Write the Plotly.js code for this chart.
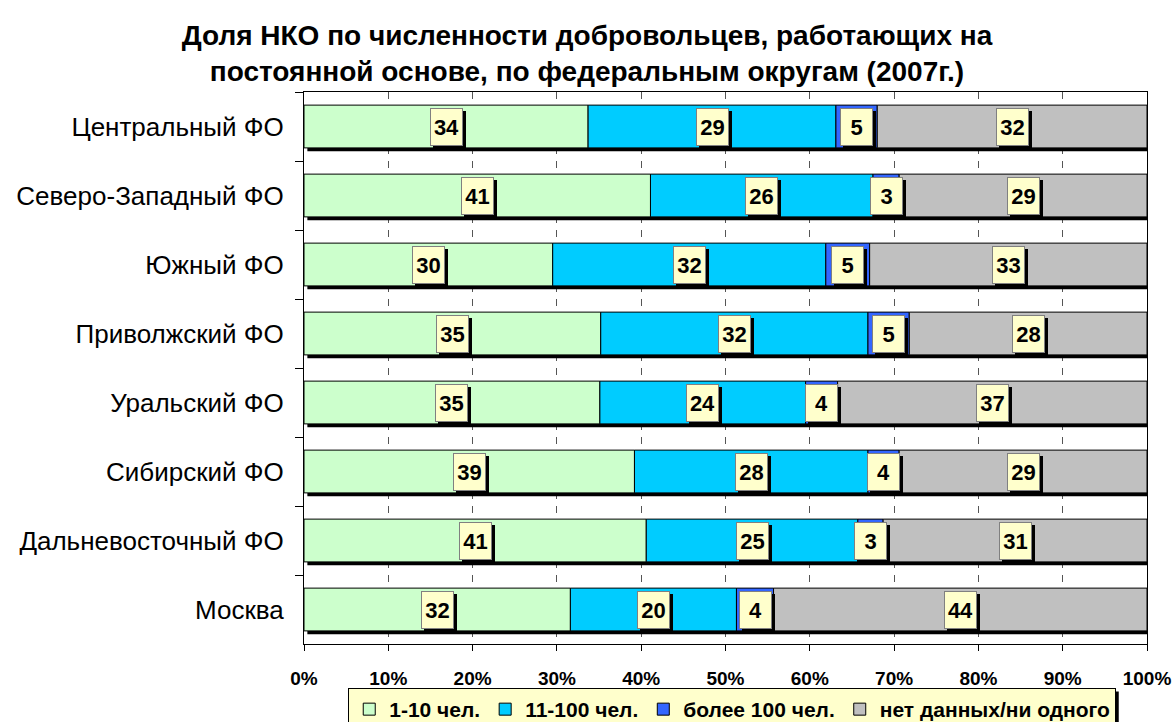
<!DOCTYPE html>
<html>
<head>
<meta charset="utf-8">
<script src="https://cdn.plot.ly/plotly-3.0.1.min.js"></script>
<style>
html,body{margin:0;padding:0;background:#fff;}
#chart{width:1174px;height:722px;}
</style>
</head>
<body>
<div id="chart"></div>
<script>
// ---- data ----
const categories = ['Центральный ФО', 'Северо-Западный ФО', 'Южный ФО', 'Приволжский ФО',
  'Уральский ФО', 'Сибирский ФО', 'Дальневосточный ФО', 'Москва'];
const seriesNames = ['1-10 чел.', '11-100 чел.', 'более 100 чел.', 'нет данных/ни одного'];
const small = [33.7, 41.1, 29.5, 35.2, 35.1, 39.2, 40.6, 31.6];     // 1-10 чел.
const medium = [29.4, 26.4, 32.4, 31.7, 24.4, 27.7, 25.1, 19.7];   // 11-100 чел.
const large = [4.9, 3.1, 5.2, 4.9, 3.8, 3.7, 3.0, 4.4];            // более 100 чел.
const none = [32.0, 29.4, 32.9, 28.2, 36.7, 29.4, 31.3, 44.3];     // нет данных/ни одного
const xTicks = [0, 10, 20, 30, 40, 50, 60, 70, 80, 90, 100];

// ---- styles ----
const colors = ['#CCFFCC', '#00CCFF', '#3366FF', '#C0C0C0'];
const FONT = 'Liberation Sans, Arial, sans-serif';
const BAR_W = 0.62;

const series = [small, medium, large, none];
const traces = [];
const annotations = [];

// shadow behind each full bar
const totals = categories.map((c, i) => series.reduce((s, arr) => s + arr[i], 0));
traces.push({
  type: 'bar', orientation: 'h', y: categories, x: totals, base: 0.4,
  width: BAR_W, offset: -BAR_W / 2 + 0.05,
  marker: {color: '#000000', line: {width: 0}},
  showlegend: false, hoverinfo: 'skip', cliponaxis: false
});

const bases = categories.map(() => 0);
series.forEach((arr, k) => {
  const b = bases.slice();
  traces.push({
    type: 'bar', orientation: 'h', name: seriesNames[k],
    y: categories, x: arr, base: b,
    width: BAR_W, offset: -BAR_W / 2,
    marker: {color: colors[k], line: {color: '#000000', width: 1}}
  });
  arr.forEach((v, i) => {
    const xc = b[i] + v / 2;
    const common = {
      x: xc, y: categories[i], xref: 'x', yref: 'y', showarrow: false,
      width: 27, height: 32, borderpad: 2, borderwidth: 1,
      font: {family: FONT, size: 22, weight: 'bold', color: '#000'}
    };
    // box shadow (no visible text)
    annotations.push(Object.assign({}, common, {
      text: '\u00a0', bgcolor: '#000000', bordercolor: '#000000', xshift: 3, yshift: -3
    }));
    annotations.push(Object.assign({}, common, {
      text: String(Math.round(v)), bgcolor: '#FFFFCC', bordercolor: '#808080'
    }));
    bases[i] += v;
  });
});

const layout = {
  width: 1174, height: 722,
  margin: {l: 304, r: 27, t: 92, b: 78},
  paper_bgcolor: '#ffffff', plot_bgcolor: '#ffffff',
  barmode: 'overlay',
  font: {family: FONT, color: '#000'},
  title: {
    text: 'Доля НКО по численности добровольцев, работающих на<br>постоянной основе, по федеральным округам (2007г.)',
    x: 0.5, xanchor: 'center', xref: 'container', y: 1 - 45 / 722, yanchor: 'middle', yref: 'container',
    font: {family: FONT, size: 28, weight: 'bold', color: '#000'}
  },
  xaxis: {
    range: [0, 100], tickvals: xTicks, ticktext: xTicks.map(v => v + '%'),
    showline: true, linecolor: '#000', linewidth: 1, mirror: true,
    ticks: 'outside', ticklen: 6, tickcolor: '#000',
    ticklabelposition: 'outside', ticklabelstandoff: 11,
    showgrid: true, gridcolor: '#555555', gridwidth: 1, griddash: '7px,6.8px',
    zeroline: false, fixedrange: true, automargin: false,
    tickfont: {family: FONT, size: 19, weight: 'bold', color: '#000'}
  },
  yaxis: {
    type: 'category', autorange: 'reversed',
    showline: true, linecolor: '#000', linewidth: 1, mirror: true,
    ticks: 'outside', tickson: 'boundaries', ticklen: 8, tickcolor: '#000',
    ticklabelposition: 'outside', ticklabelstandoff: 14,
    showgrid: false, zeroline: false, fixedrange: true, automargin: false,
    tickfont: {family: FONT, size: 26, color: '#000'}
  },
  legend: {
    orientation: 'h', x: 0.508, xanchor: 'center', xref: 'paper',
    y: 1 - 688 / 722, yanchor: 'top', yref: 'container',
    bgcolor: '#FFFFCC', bordercolor: '#000', borderwidth: 1,
    font: {family: FONT, size: 21, weight: 'bold', color: '#000'},
    itemwidth: 30, traceorder: 'normal', tracegroupgap: 0
  },
  annotations: annotations,
  showlegend: true
};

Plotly.newPlot('chart', traces, layout, {displayModeBar: false, staticPlot: true}).then(gd => {
  // drop shadow for the legend box, placed from its rendered size
  const bg = gd.querySelector('.legend .bg');
  if (!bg) return;
  const r = bg.getBoundingClientRect();
  const c = gd.getBoundingClientRect();
  const sx = gd._fullLayout._size;
  const toX = px => (px - c.left - sx.l) / sx.w;
  const toY = py => (sx.t + sx.h - (py - c.top)) / sx.h;
  Plotly.relayout(gd, {shapes: [{
    type: 'rect', xref: 'paper', yref: 'paper', layer: 'above',
    x0: toX(r.left + 3), x1: toX(r.right + 3), y0: toY(r.top + 3), y1: toY(r.bottom + 3),
    fillcolor: '#000000', line: {width: 0}
  }]});
});
</script>
</body>
</html>
